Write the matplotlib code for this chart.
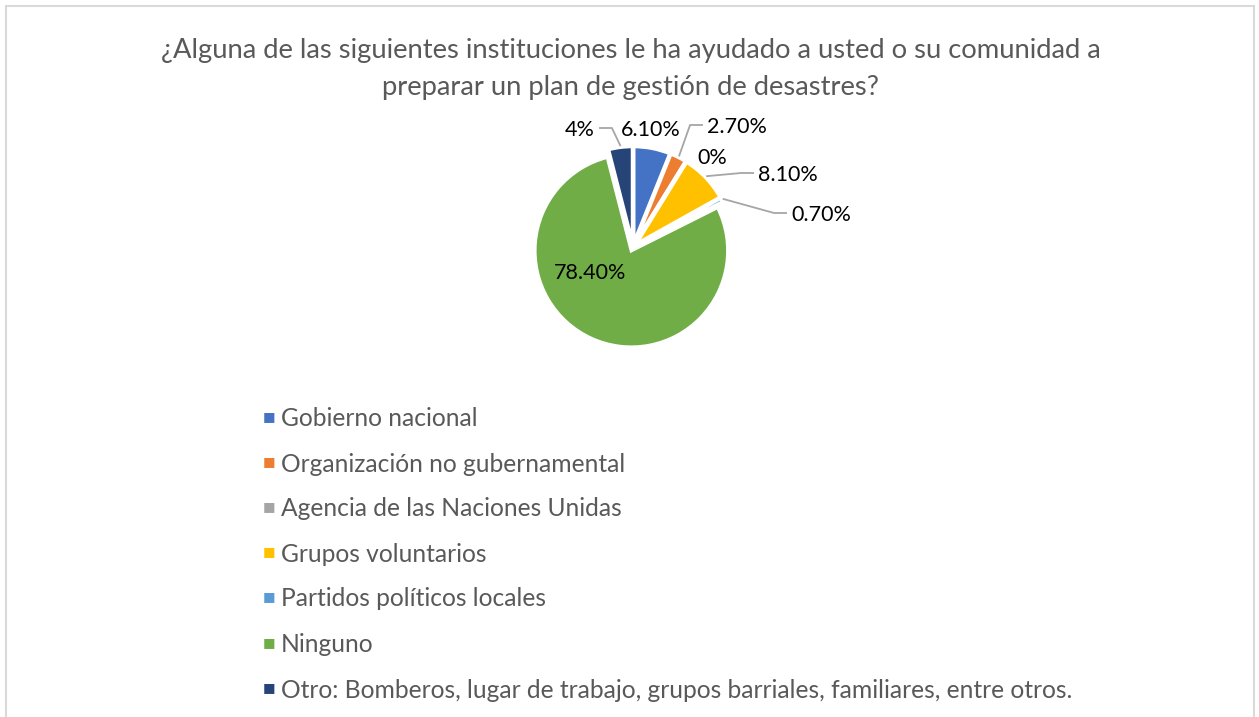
import numpy as np
import matplotlib
matplotlib.use('Agg')
import matplotlib.pyplot as plt
from matplotlib.patches import Rectangle

plt.rcParams['font.family'] = ['Lato', 'DejaVu Sans']

title = '¿Alguna de las siguientes instituciones le ha ayudado a usted o su comunidad a\npreparar un plan de gestión de desastres?'
categories = ['Gobierno nacional', 'Organización no gubernamental', 'Agencia de las Naciones Unidas',
              'Grupos voluntarios', 'Partidos políticos locales', 'Ninguno',
              'Otro: Bomberos, lugar de trabajo, grupos barriales, familiares, entre otros.']
values = [6.1, 2.7, 0.0, 8.1, 0.7, 78.4, 4.0]
labels = ['6.10%', '2.70%', '0%', '8.10%', '0.70%', '78.40%', '4%']
colors = ['#4472C4', '#ED7D31', '#A5A5A5', '#FFC000', '#5B9BD5', '#70AD47', '#264478']

# label placement (data units, 100 px per unit) and whether a leader line is drawn
label_pos = [(0.18, 1.17), (1.04, 1.20), (0.79, 0.89), (1.55, 0.72), (1.88, 0.32), (-0.43, -0.26), (-0.53, 1.17)]
leader = [False, True, False, True, True, False, True]

W, H = 1259, 717
fig = plt.figure(figsize=(W / 100, H / 100), dpi=100)
fig.add_artist(Rectangle((6 / W, -0.01), 1248 / W, (H - 6) / H + 0.01, transform=fig.transFigure,
                         fill=False, edgecolor='#D9D9D9', linewidth=1.5))

fig.text(631 / W, 1 - 69 / H, title, ha='center', va='center', fontsize=19.7, color='#595959',
         linespacing=1.6)

cx, cy, half = 633, 247, 150
ax = fig.add_axes([(cx - half) / W, 1 - (cy + half) / H, 2 * half / W, 2 * half / H])
wedges, _ = ax.pie(values, colors=colors, startangle=90, counterclock=False, radius=0.965,
                   explode=[0.04] * len(values),
                   wedgeprops=dict(edgecolor='white', linewidth=2.5))
ax.set_xlim(-1.5, 1.5)
ax.set_ylim(-1.5, 1.5)
ax.set_aspect('equal')
ax.axis('off')

renderer = fig.canvas.get_renderer()
inv = ax.transData.inverted()
for w, lab, (lx, ly), ld in zip(wedges, labels, label_pos, leader):
    t = ax.text(lx, ly, lab, ha='center', va='center', fontsize=15.5, color='black')
    if ld:
        bb = t.get_window_extent(renderer)
        half_w = (inv.transform((bb.x1, 0))[0] - inv.transform((bb.x0, 0))[0]) / 2
        ang = np.deg2rad((w.theta1 + w.theta2) / 2)
        r = w.r + 0.02
        ox, oy = w.center
        x0, y0 = ox + r * np.cos(ang), oy + r * np.sin(ang)
        side = -1 if lx < 0 else 1
        xe = lx - side * (half_w + 0.05)
        xm = xe - side * 0.12
        ax.plot([x0, xm, xe], [y0, ly + 0.02, ly + 0.02], color='#A6A6A6', linewidth=1.3, clip_on=False)

legend_y = [419, 464, 509, 554, 599, 645, 690]
for cat, col, y in zip(categories, colors, legend_y):
    fig.text(263 / W, 1 - (y - 2) / H, '\u25A0', ha='left', va='center', fontsize=9.5, color=col,
             family='DejaVu Sans')
    fig.text(281 / W, 1 - y / H, cat, ha='left', va='center', fontsize=17.7, color='#595959')

fig.savefig('out.png', dpi=100)
